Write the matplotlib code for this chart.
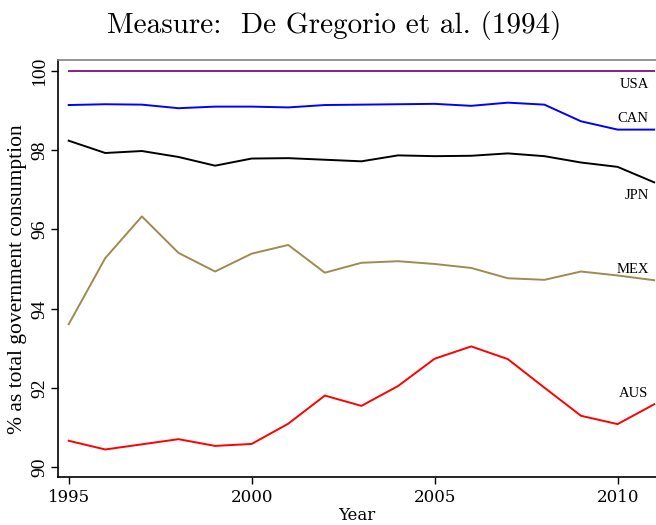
import matplotlib
matplotlib.use("Agg")
import matplotlib.pyplot as plt

years = list(range(1995, 2012))

usa = [100.0] * 17
can = [99.14, 99.16, 99.15, 99.06, 99.10, 99.10, 99.08, 99.14, 99.15, 99.16, 99.17, 99.12, 99.20, 99.15, 98.73, 98.52, 98.52]
jpn = [98.24, 97.93, 97.98, 97.83, 97.61, 97.79, 97.80, 97.76, 97.72, 97.87, 97.85, 97.86, 97.92, 97.85, 97.69, 97.58, 97.19]
mex = [93.61, 95.28, 96.33, 95.41, 94.94, 95.39, 95.61, 94.91, 95.16, 95.20, 95.13, 95.03, 94.77, 94.73, 94.94, 94.84, 94.72]
aus = [90.67, 90.45, 90.58, 90.71, 90.54, 90.59, 91.10, 91.81, 91.55, 92.05, 92.74, 93.05, 92.73, 92.01, 91.30, 91.09, 91.59]

series = [
    ("USA", usa, "#8B1C8B", 99.67),
    ("CAN", can, "#0000FF", 98.79),
    ("JPN", jpn, "#000000", 96.87),
    ("MEX", mex, "#A08A50", 95.00),
    ("AUS", aus, "#FF0000", 91.87),
]

xticks = [1995, 2000, 2005, 2010]
yticks = [90, 92, 94, 96, 98, 100]

plt.rcParams["font.family"] = ["Liberation Serif", "DejaVu Serif"]

fig = plt.figure(figsize=(6.56, 5.25), dpi=100)
ax = fig.add_axes([0.088, 0.091, 0.912, 0.795])

for name, vals, col, ly in series:
    ax.plot(years, vals, color=col, lw=1.4)
    ax.text(2010.85, ly, name, ha="right", va="center", fontsize=10.5)

ax.set_xlim(1994.7, 2011.05)
ax.set_ylim(89.75, 100.28)
ax.set_xticks(xticks)
ax.set_yticks(yticks)
ax.tick_params(axis="both", direction="out", length=5, width=1)
ax.tick_params(axis="y", labelsize=14, pad=2)
for lab in ax.get_xticklabels():
    lab.set_family("DejaVu Serif")
    lab.set_fontsize(12)
for lab in ax.get_yticklabels():
    lab.set_rotation(90)
    lab.set_va("center")

ax.spines["right"].set_visible(False)
ax.spines["top"].set_color("#808080")
ax.spines["top"].set_linewidth(1.2)
ax.spines["left"].set_linewidth(1.2)
ax.spines["bottom"].set_linewidth(1.2)

ax.set_ylabel("% as total government consumption", fontsize=15.5)
ax.yaxis.set_label_coords(-0.052, 0.475)
ax.set_xlabel("Year", fontsize=12, family="DejaVu Serif", labelpad=0.5)
fig.text(0.51, 0.952, "Measure:  De Gregorio et al. (1994)", ha="center", va="center",
         fontsize=21, family="cmr10")

fig.savefig("out.png", dpi=100)
